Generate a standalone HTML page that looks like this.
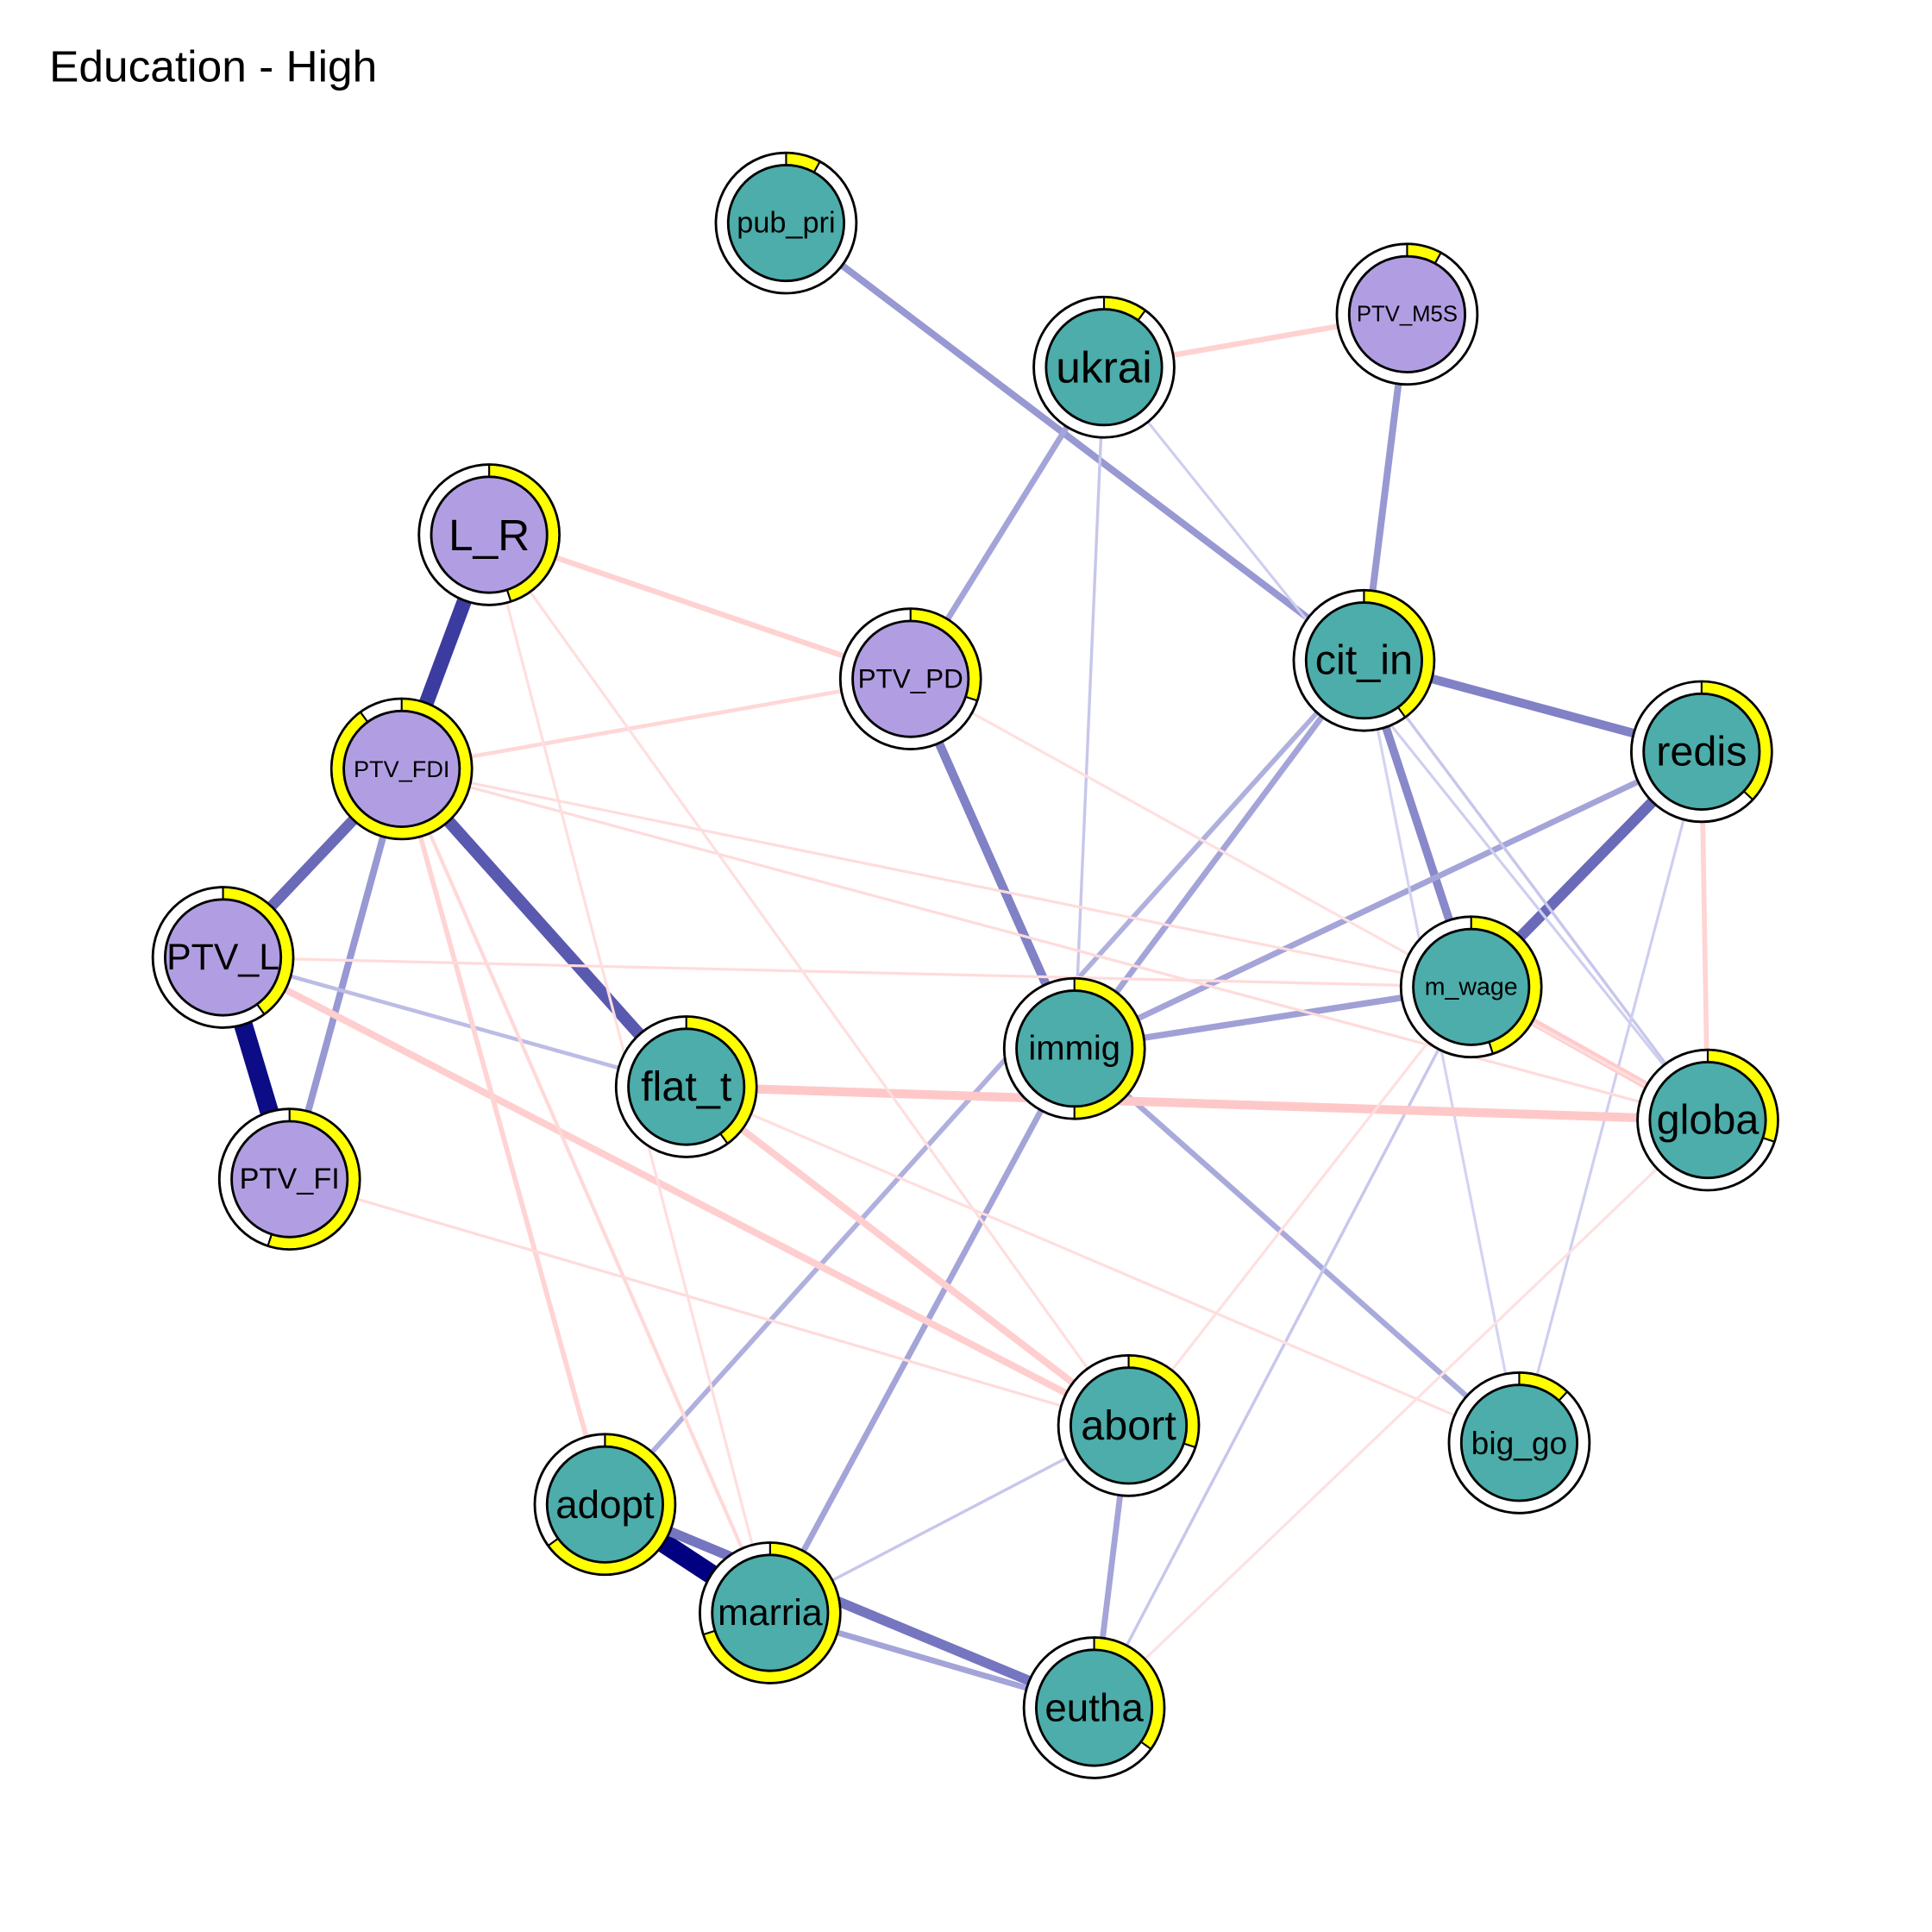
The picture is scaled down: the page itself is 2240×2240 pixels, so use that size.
<!DOCTYPE html>
<html><head><meta charset="utf-8"><style>
html,body{margin:0;padding:0;background:#fff;}
svg{display:block;}
text{font-family:"Liberation Sans",Arial,sans-serif;}
</style></head><body>
<svg id="chart" width="2240" height="2240" viewBox="0 0 1568 1568" xmlns="http://www.w3.org/2000/svg">
<rect width="1568" height="1568" fill="#fff"/>
<text x="40" y="66" font-size="36" fill="#000">Education - High</text>
<g id="edges"></g>
<g id="nodes"></g>
</svg>
<script>
const nodeNames = ["pub_pri","ukrai","PTV_M5S","L_R","PTV_PD","cit_in","redis","PTV_FDI","PTV_L","m_wage","immig","flat_t","globa","PTV_FI","abort","big_go","adopt","marria","eutha"];
const nodeX = [638,896,1142,397,739,1107,1381,326,181,1194,872,557,1386,235,916,1233,491,625,888];
const nodeY = [181,298,255,434,551,536,610,624,777,801,851,882,909,957,1157,1171,1221,1309,1386];
const nodePie = [0.08,0.1,0.08,0.45,0.3,0.4,0.37,0.9,0.4,0.45,0.5,0.4,0.3,0.55,0.3,0.12,0.65,0.7,0.35];
const nodeGroup = [0,0,1,1,1,0,0,1,1,0,0,0,0,1,0,0,0,0,0];
const labelSize = [24,36,18,36,22,34,34,19,30,20,28,34,34,24,34,26,32,30,32];

const edgeFrom = ["PTV_L","adopt","L_R","PTV_FDI","PTV_FDI","PTV_FDI","redis","cit_in","cit_in","PTV_PD","adopt","marria","pub_pri","ukrai","PTV_M5S","immig","immig","immig","adopt","immig","immig","abort","PTV_L","ukrai","ukrai","cit_in","eutha","redis","marria","cit_in","flat_t","ukrai","L_R","PTV_FDI","PTV_L","flat_t","m_wage","redis","PTV_FDI","PTV_FDI","PTV_L","PTV_FDI","PTV_FI","L_R","L_R","PTV_FDI","flat_t","PTV_PD","eutha","abort"];
const edgeTo   = ["PTV_FI","marria","PTV_FDI","flat_t","PTV_L","PTV_FI","m_wage","redis","m_wage","immig","eutha","eutha","cit_in","PTV_PD","cit_in","m_wage","redis","cit_in","cit_in","marria","big_go","eutha","flat_t","immig","globa","globa","m_wage","big_go","abort","big_go","globa","PTV_M5S","PTV_PD","PTV_PD","abort","abort","globa","globa","adopt","marria","m_wage","globa","abort","abort","marria","m_wage","big_go","globa","globa","m_wage"];
const edgeWeight = [0.95,1.0,0.75,0.62,0.55,0.35,0.55,0.45,0.42,0.45,0.5,0.3,0.35,0.3,0.35,0.32,0.3,0.3,0.25,0.3,0.28,0.3,0.2,0.15,0.12,0.15,0.15,0.12,0.15,0.1,-0.45,-0.28,-0.28,-0.2,-0.35,-0.35,-0.4,-0.25,-0.25,-0.18,-0.14,-0.14,-0.14,-0.1,-0.1,-0.12,-0.1,-0.08,-0.06,-0.08];

const NS="http://www.w3.org/2000/svg";
const eg=document.getElementById('edges'), ng=document.getElementById('nodes');
const idx=n=>nodeNames.indexOf(n);
function edgeColor(w){
  const a=Math.min(1,Math.abs(w));
  if(w>0){ const t=1-a; const r=Math.round(255*t*0.92), g=r, b=Math.round(128+127*t); return `rgb(${Math.min(r,232)},${Math.min(g,232)},${b})`; }
  const t=1-a; const gb=Math.round(165+90*t*0.7); return `rgb(255,${Math.min(gb,236)},${Math.min(gb,236)})`;
}
for(let i=0;i<edgeFrom.length;i++){
  const a=idx(edgeFrom[i]), b=idx(edgeTo[i]);
  const l=document.createElementNS(NS,'line');
  l.setAttribute('x1',nodeX[a]);l.setAttribute('y1',nodeY[a]);
  l.setAttribute('x2',nodeX[b]);l.setAttribute('y2',nodeY[b]);
  l.setAttribute('stroke',edgeColor(edgeWeight[i]));
  l.setAttribute('stroke-width',Math.max(2.2,Math.abs(edgeWeight[i])*16));
  l.setAttribute('stroke-linecap','round');
  
  
  eg.appendChild(l);
}
const R=57, Ri=47, Rm=52;
for(let i=0;i<nodeNames.length;i++){
  const g=document.createElementNS(NS,'g');
  
  
  const cx=nodeX[i], cy=nodeY[i];
  let c=document.createElementNS(NS,'circle');
  c.setAttribute('cx',cx);c.setAttribute('cy',cy);c.setAttribute('r',R);
  c.setAttribute('fill','#fff');c.setAttribute('stroke','#000');c.setAttribute('stroke-width',2);
  g.appendChild(c);
  const p=nodePie[i], ang=p*2*Math.PI;
  const x2=cx+Rm*Math.sin(ang), y2=cy-Rm*Math.cos(ang);
  const arc=document.createElementNS(NS,'path');
  arc.setAttribute('d',`M${cx},${cy-Rm} A${Rm},${Rm} 0 ${p>0.5?1:0} 1 ${x2},${y2}`);
  arc.setAttribute('fill','none');arc.setAttribute('stroke','#ffff00');arc.setAttribute('stroke-width',8);
  
  
  g.appendChild(arc);
  for(const a of [0,ang]){
    const t=document.createElementNS(NS,'line');
    t.setAttribute('x1',cx+Ri*Math.sin(a));t.setAttribute('y1',cy-Ri*Math.cos(a));
    t.setAttribute('x2',cx+R*Math.sin(a));t.setAttribute('y2',cy-R*Math.cos(a));
    t.setAttribute('stroke','#000');t.setAttribute('stroke-width',1.5);
    g.appendChild(t);
  }
  c=document.createElementNS(NS,'circle');
  c.setAttribute('cx',cx);c.setAttribute('cy',cy);c.setAttribute('r',Ri);
  c.setAttribute('fill',nodeGroup[i]?'#b19ee2':'#4cadaa');c.setAttribute('stroke','#000');c.setAttribute('stroke-width',2);
  g.appendChild(c);
  const tx=document.createElementNS(NS,'text');
  tx.setAttribute('x',cx);tx.setAttribute('y',cy);
  tx.setAttribute('text-anchor','middle');tx.setAttribute('dominant-baseline','central');
  tx.setAttribute('font-size',labelSize[i]);tx.setAttribute('fill','#000');
  
  
  tx.textContent=nodeNames[i];
  g.appendChild(tx);
  ng.appendChild(g);
}
</script>
</body></html>
